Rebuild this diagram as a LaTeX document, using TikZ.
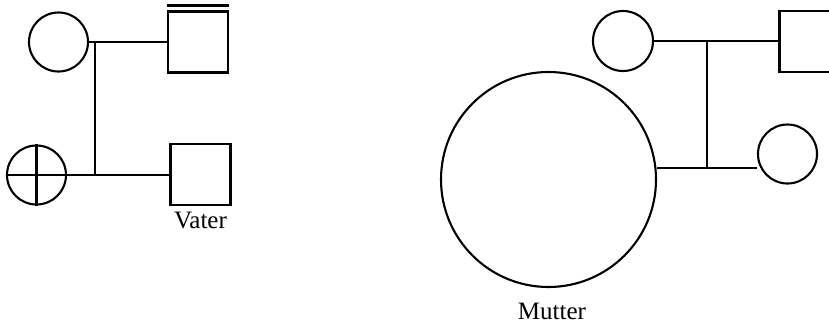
\documentclass[tikz,border=0pt]{standalone}
\usepackage{fontspec}
\setmainfont{Liberation Serif}
\begin{document}
\begin{tikzpicture}[x=1pt,y=-1pt,
  person/.style={draw,line width=2.1pt,inner sep=0pt},
  fem/.style={person,circle,minimum size=#1},
  male/.style={person,rectangle,minimum width=60pt,minimum height=61pt},
  link/.style={line width=2.1pt},
  lbl/.style={font=\fontsize{25}{29}\selectfont,anchor=base,inner sep=0pt}]
\useasboundingbox (0,0) rectangle (829,324);
% left family
\node[fem=59pt] (c1) at (58.5,42) {};
\node[male] (s1) at (198,42) {};
\node[fem=59pt] (c2) at (36.5,175) {};
\node[male] (s2) at (200.5,174.5) {};
\coordinate (j1) at (95,42);
\coordinate (j1b) at (95,175);
\draw[link] (c1.east) -- (s1.west);
\draw[link] (j1) -- (j1b);
\draw[link] (c2.east) -- (c2 -| s2.west);
\draw[link] (c2.north) -- (c2.south);
\draw[link] (c2.west) -- (c2.east);
\draw[link] ([yshift=5pt]s1.north west) -- ([yshift=5pt]s1.north east);
\node[lbl] (vater) at (200.5,228) {Vater};
% right family
\node[fem=60pt] (c3) at (623,41) {};
\node[male] (s3) at (809.5,41.5) {};
\node[fem=215pt] (c4) at (548.5,179.5) {};
\node[fem=59pt] (c5) at (787.5,154) {};
\coordinate (j2) at (707,41);
\coordinate (j2b) at (707,168);
\draw[link] (c3.east) -- (c3 -| s3.west);
\draw[link] (j2) -- (j2b);
\draw[link] (j2b -| c4.east) -- (j2b -| c5.west);
\node[lbl] (mutter) at (552,319) {Mutter};
\end{tikzpicture}
\end{document}
